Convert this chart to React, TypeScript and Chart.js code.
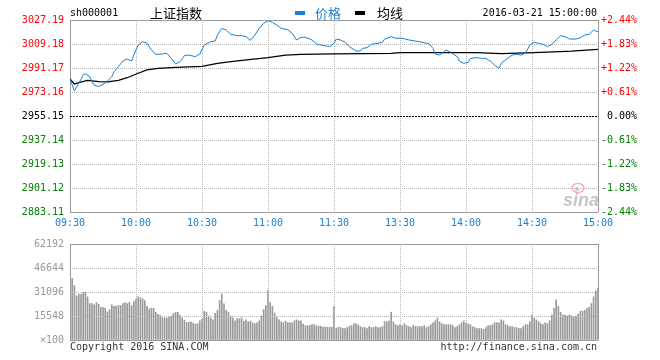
import React, { useEffect, useRef } from 'react';
import { Chart, registerables } from 'chart.js';

Chart.register(...registerables);

// ---------- data ----------
const symbol = 'sh000001';
const indexName = '上证指数';
const timestamp = '2016-03-21 15:00:00';
const legendLabels = ['价格', '均线'];
const copyrightText = 'Copyright 2016 SINA.COM';
const urlText = 'http://finance.sina.com.cn';
const watermarkText = 'sina';

const basePrice = 2955.15;
const priceTicks = [2883.11, 2901.12, 2919.13, 2937.14, 2955.15, 2973.16, 2991.17, 3009.18, 3027.19];
const pctLabels = ['-2.44%', '-1.83%', '-1.22%', '-0.61%', '0.00%', '+0.61%', '+1.22%', '+1.83%', '+2.44%'];
const timeTicks = [0, 30, 60, 90, 120, 150, 180, 210, 240];
const timeLabels = ['09:30', '10:00', '10:30', '11:00', '11:30', '13:30', '14:00', '14:30', '15:00'];

// minute index (0 = 09:30, 120 = 11:30/13:00, 240 = 15:00)
const priceMinutes = [
  0, 2, 4, 6, 7, 9, 10, 11, 13, 15, 17, 19, 20, 22, 24, 26, 28, 29, 31, 33,
  35, 37, 39, 42, 44, 46, 48, 50, 52, 54, 57, 59, 61, 64, 66, 67, 69, 71, 73, 76,
  78, 80, 82, 84, 86, 88, 90, 92, 94, 96, 99, 101, 103, 105, 107, 110, 112, 114, 116, 118,
  120, 121, 123, 125, 127, 130, 132, 133, 135, 137, 140, 142, 143, 146, 148, 151, 154, 157, 159, 162,
  163, 165, 166, 168, 169, 171, 173, 176, 177, 179, 181, 182, 185, 187, 189, 191, 193, 195, 196, 199,
  201, 203, 205, 207, 209, 211, 213, 215, 217, 219, 221, 223, 225, 227, 230, 232, 234, 236, 238, 239, 240,
];
const priceValues = [
  2982.9, 2974.1, 2979.7, 2985.9, 2986.9, 2984.6, 2980.9, 2978.4, 2977.2, 2978.9, 2981.4, 2984.6, 2988.4, 2992.2, 2996.4, 2997.9, 2996.4, 3000.9, 3008.4, 3010.9,
  3009.9, 3004.7, 3001.4, 3001.7, 3002.2, 2998.4, 2994.2, 2995.9, 3000.4, 3000.9, 2999.7, 3001.7, 3008.4, 3010.9, 3011.4, 3015.9, 3020.9, 3019.7, 3016.5, 3015.4,
  3015.4, 3014.7, 3011.9, 3015.9, 3020.9, 3024.7, 3026.7, 3025.4, 3023.4, 3020.9, 3019.9, 3017.2, 3012.2, 3014.2, 3014.2, 3012.2, 3009.2, 3008.4, 3007.9, 3007.2,
  3009.7, 3012.9, 3012.2, 3010.5, 3007.2, 3003.9, 3003.9, 3005.9, 3006.4, 3008.9, 3009.7, 3010.5, 3012.9, 3014.7, 3013.5, 3013.5, 3012.2, 3011.4, 3010.9, 3009.7,
  3009.7, 3005.9, 3001.7, 3000.9, 3002.2, 3004.7, 3002.9, 2999.7, 2996.4, 2994.7, 2995.4, 2998.4, 2998.9, 2998.4, 2998.4, 2996.4, 2993.4, 2990.9, 2994.7, 2998.4,
  3000.9, 3001.4, 3000.9, 3002.2, 3008.4, 3010.5, 3009.7, 3008.9, 3007.2, 3008.9, 3012.2, 3015.4, 3014.7, 3012.9, 3012.9, 3013.9, 3015.9, 3016.5, 3019.7, 3018.9, 3018.4,
];

const avgMinutes = [0, 2, 4, 8, 13, 17, 22, 26, 31, 35, 40, 48, 60, 67, 75, 90, 98, 105, 120, 146, 150, 185, 196, 211, 228, 240];
const avgValues = [
  2982.9, 2979.2, 2980.2, 2981.9, 2980.9, 2980.7, 2981.9, 2983.9, 2987.2, 2989.7, 2990.9, 2991.7, 2992.4,
  2994.7, 2996.4, 2998.9, 3000.9, 3001.4, 3001.7, 3002.2, 3002.7, 3002.7, 3001.9, 3002.7, 3003.9, 3005.2,
];

// volume per minute (x100), minute 0..240
const volumeValues = [
  62192, 39800, 35200, 28600, 29600, 29600, 30900, 30900, 28000, 23600,
  23600, 22800, 24300, 23200, 21100, 21100, 20500, 18200, 19700, 22800,
  21800, 21800, 22400, 22400, 23600, 24300, 23600, 24300, 22200, 24900,
  26300, 28000, 27400, 26700, 25500, 21800, 20100, 20700, 20500, 18000,
  16600, 16000, 14500, 14300, 14300, 14900, 15500, 17200, 18000, 18000,
  16000, 14300, 12900, 11400, 11400, 11800, 10800, 10200, 10600, 12400,
  13500, 18660, 18040, 15550, 14300, 13060, 17210, 19280, 25500, 29850,
  23430, 19280, 18040, 15550, 14300, 12440, 13890, 13890, 14300, 12230,
  13060, 11820, 12230, 11200, 10570, 11200, 12440, 15550, 19690, 22390,
  32130, 24260, 21770, 17410, 14510, 13060, 11820, 11200, 12230, 11200,
  11200, 11200, 12440, 13060, 12440, 12440, 10370, 9330, 9330, 9330,
  9950, 9950, 9330, 8910, 8910, 8290, 8290, 8290, 8290, 8290,
  21770, 7670, 8290, 8090, 7460, 7460, 8090, 8910, 9330, 10570,
  10570, 9740, 8710, 8090, 8090, 7460, 8710, 8090, 8090, 8710,
  8090, 8090, 8710, 11820, 11820, 12440, 18040, 11820, 9950, 9330,
  9950, 9330, 10570, 9330, 8710, 8090, 9330, 8710, 8710, 8710,
  8710, 9330, 8090, 8710, 9950, 11200, 12440, 14300, 11820, 10570,
  9950, 9950, 9950, 9950, 9330, 8090, 8710, 9950, 11200, 12440,
  10780, 10370, 9950, 8710, 8090, 7460, 7460, 7460, 6840, 8090,
  9330, 9330, 9950, 11200, 11200, 11200, 13060, 12440, 9950, 9330,
  8710, 8710, 8090, 8090, 7460, 7460, 8710, 9950, 9950, 11820,
  16170, 14300, 13060, 11820, 10570, 9950, 11200, 10570, 12440, 16170,
  20520, 26120, 21770, 18040, 16170, 16170, 15550, 16170, 15550, 14930,
  15550, 16790, 18660, 18660, 19280, 20520, 21150, 23630, 27990, 31720,
  33580,
];
const volumeTicks = [0, 15548, 31096, 46644, 62192];
const volumeTickLabels = ['×100', '15548', '31096', '46644', '62192'];

// ---------- styles ----------
const MONO = '"DejaVu Sans Mono", monospace';
const CJK = '"Noto Sans CJK SC", sans-serif';
const BLUE = '#1b7fcf';
const RED = '#ff0000';
const GREEN = '#008000';
const EDGE = '#9a9a9a';
const DOT = '#b4b4b4';
const monoFont = { family: MONO, size: 10 };

function edgeOrDot(index: number, count: number) {
  return index === 0 || index === count - 1;
}

const headerPlugin = {
  id: 'header',
  afterDraw(chart: any) {
    const ctx = chart.ctx as CanvasRenderingContext2D;
    ctx.save();
    ctx.textBaseline = 'middle';
    ctx.textAlign = 'left';
    ctx.fillStyle = '#000';
    ctx.font = `10px ${MONO}`;
    ctx.fillText(symbol, 70, 13);
    ctx.font = `13px ${CJK}`;
    ctx.fillText(indexName, 150, 13);
    ctx.fillStyle = BLUE;
    ctx.fillRect(295, 11, 10, 4);
    ctx.fillText(chart.data.datasets[0].label, 315, 13);
    ctx.fillStyle = '#000';
    ctx.fillRect(355, 11, 10, 4);
    ctx.fillText(chart.data.datasets[1].label, 377, 13);
    ctx.font = `10px ${MONO}`;
    ctx.textAlign = 'right';
    ctx.fillText(timestamp, 597, 13);
    // watermark
    ctx.textAlign = 'left';
    ctx.textBaseline = 'alphabetic';
    ctx.font = 'italic bold 18px "Liberation Sans", sans-serif';
    ctx.fillStyle = '#c6c6c6';
    ctx.fillText(watermarkText, 563, 206);
    ctx.strokeStyle = '#f2b4b4';
    ctx.lineWidth = 1.5;
    ctx.beginPath();
    ctx.ellipse(578, 188, 6, 4.5, 0, 0, Math.PI * 2);
    ctx.stroke();
    ctx.fillStyle = '#c6c6c6';
    ctx.beginPath();
    ctx.arc(577, 189, 2, 0, Math.PI * 2);
    ctx.fill();
    ctx.restore();
  },
};

const footerPlugin = {
  id: 'footer',
  afterDraw(chart: any) {
    const ctx = chart.ctx as CanvasRenderingContext2D;
    ctx.save();
    ctx.textBaseline = 'middle';
    ctx.font = `10px ${MONO}`;
    ctx.fillStyle = '#333';
    ctx.textAlign = 'left';
    ctx.fillText(copyrightText, 70, 115);
    ctx.textAlign = 'right';
    ctx.fillText(urlText, 597, 115);
    ctx.restore();
  },
};

export default function App() {
  const priceRef = useRef<HTMLCanvasElement>(null);
  const volRef = useRef<HTMLCanvasElement>(null);

  useEffect(() => {
    const priceChart = new Chart(priceRef.current as HTMLCanvasElement, {
      type: 'line',
      data: {
        datasets: [
          {
            label: legendLabels[0],
            data: priceMinutes.map((m, i) => ({ x: m, y: priceValues[i] })),
            borderColor: BLUE,
            borderWidth: 1,
            pointRadius: 0,
            tension: 0,
          },
          {
            label: legendLabels[1],
            data: avgMinutes.map((m, i) => ({ x: m, y: avgValues[i] })),
            borderColor: '#000',
            borderWidth: 1.2,
            pointRadius: 0,
            tension: 0,
          },
        ],
      },
      options: {
        responsive: false,
        animation: false,
        events: [],
        layout: { padding: { top: 20, right: 23, left: 0, bottom: 0 } },
        plugins: { legend: { display: false }, tooltip: { enabled: false }, title: { display: false } },
        scales: {
          x: {
            type: 'linear',
            min: 0,
            max: 240,
            afterBuildTicks: (s: any) => {
              s.ticks = timeTicks.map((v) => ({ value: v }));
            },
            afterFit: (s: any) => {
              s.height = 20;
            },
            grid: {
              drawTicks: false,
              color: (c: any) => (edgeOrDot(c.index, timeTicks.length) ? EDGE : DOT),
            },
            border: {
              display: false,
              dash: (c: any) => (edgeOrDot(c.index, timeTicks.length) ? [] : [1, 1]),
            },
            ticks: {
              autoSkip: false,
              maxRotation: 0,
              padding: 5,
              color: BLUE,
              font: monoFont,
              callback: (_v: any, i: number) => timeLabels[i],
            },
          },
          y: {
            position: 'left',
            min: priceTicks[0],
            max: priceTicks[priceTicks.length - 1],
            afterBuildTicks: (s: any) => {
              s.ticks = priceTicks.map((v) => ({ value: v }));
            },
            afterFit: (s: any) => {
              s.width = 70;
            },
            grid: {
              drawTicks: false,
              color: (c: any) =>
                edgeOrDot(c.index, priceTicks.length) ? EDGE : priceTicks[c.index] === basePrice ? '#000' : DOT,
            },
            border: {
              display: false,
              dash: (c: any) =>
                edgeOrDot(c.index, priceTicks.length) ? [] : priceTicks[c.index] === basePrice ? [2, 1] : [1, 1],
            },
            ticks: {
              padding: 6,
              font: monoFont,
              color: (c: any) =>
                priceTicks[c.index] > basePrice ? RED : priceTicks[c.index] < basePrice ? GREEN : '#000',
              callback: (_v: any, i: number) => priceTicks[i].toFixed(2),
            },
          },
          y2: {
            position: 'right',
            min: priceTicks[0],
            max: priceTicks[priceTicks.length - 1],
            afterBuildTicks: (s: any) => {
              s.ticks = priceTicks.map((v) => ({ value: v }));
            },
            afterFit: (s: any) => {
              s.width = 39;
            },
            grid: { display: false, drawTicks: false },
            border: { display: false },
            ticks: {
              padding: 5,
              crossAlign: 'far',
              font: monoFont,
              color: (c: any) =>
                priceTicks[c.index] > basePrice ? RED : priceTicks[c.index] < basePrice ? GREEN : '#000',
              callback: (_v: any, i: number) => pctLabels[i],
            },
          },
        },
      } as any,
      plugins: [headerPlugin],
    });

    const volChart = new Chart(volRef.current as HTMLCanvasElement, {
      type: 'bar',
      data: {
        datasets: [
          {
            data: volumeValues.map((v, i) => ({ x: i, y: v })),
            backgroundColor: '#999999',
            barThickness: 1,
          },
        ],
      },
      options: {
        responsive: false,
        animation: false,
        events: [],
        layout: { padding: { top: 8, right: 62, left: 0, bottom: 0 } },
        plugins: { legend: { display: false }, tooltip: { enabled: false }, title: { display: false } },
        scales: {
          x: {
            type: 'linear',
            min: 0,
            max: 240,
            offset: false,
            afterBuildTicks: (s: any) => {
              s.ticks = timeTicks.map((v) => ({ value: v }));
            },
            afterFit: (s: any) => {
              s.height = 20;
            },
            grid: {
              offset: false,
              drawTicks: false,
              z: 1,
              color: (c: any) => (edgeOrDot(c.index, timeTicks.length) ? EDGE : DOT),
            },
            border: {
              display: false,
              dash: (c: any) => (edgeOrDot(c.index, timeTicks.length) ? [] : [1, 1]),
            },
            ticks: { display: false },
          },
          y: {
            position: 'left',
            min: 0,
            max: volumeTicks[volumeTicks.length - 1],
            afterBuildTicks: (s: any) => {
              s.ticks = volumeTicks.map((v) => ({ value: v }));
            },
            afterFit: (s: any) => {
              s.width = 70;
            },
            grid: {
              drawTicks: false,
              z: 1,
              color: (c: any) => (edgeOrDot(c.index, volumeTicks.length) ? EDGE : DOT),
            },
            border: {
              display: false,
              dash: (c: any) => (edgeOrDot(c.index, volumeTicks.length) ? [] : [1, 1]),
            },
            ticks: {
              padding: 6,
              font: monoFont,
              color: '#999999',
              callback: (_v: any, i: number) => volumeTickLabels[i],
            },
          },
        },
      } as any,
      plugins: [footerPlugin],
    });

    return () => {
      priceChart.destroy();
      volChart.destroy();
    };
  }, []);

  return (
    <div style={{ position: 'absolute', left: 0, top: 0, width: 660, height: 360, background: '#fff' }}>
      <canvas
        ref={priceRef}
        width={660}
        height={232}
        style={{ position: 'absolute', left: 0, top: 0, width: 660, height: 232 }}
      />
      <canvas
        ref={volRef}
        width={660}
        height={128}
        style={{ position: 'absolute', left: 0, top: 232, width: 660, height: 128 }}
      />
    </div>
  );
}
